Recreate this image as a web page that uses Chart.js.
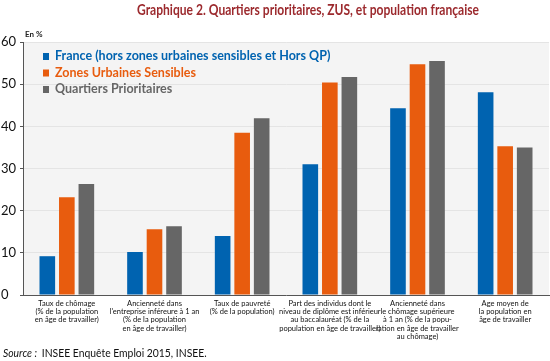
<!DOCTYPE html>
<html><head><meta charset="utf-8">
<script src="https://cdn.jsdelivr.net/npm/chart.js@4.4.1/dist/chart.umd.min.js"></script>
<style>html,body{margin:0;padding:0;background:#fff}#wrap{width:550px;height:361px;position:relative}</style>
</head><body><div id="wrap"><canvas id="c" width="550" height="361"></canvas></div>
<script>
const categories = [
  ["Taux de chômage", "(% de la population", "en âge de travailler)"],
  ["Ancienneté dans", "l'entreprise inféreure à 1 an", "(% de la population", "en âge de travailler)"],
  ["Taux de pauvreté", "(% de la population)"],
  ["Part des individus dont le", "niveau de diplôme est inférieur", "au baccalauréat (% de la", "population en âge de travailler)"],
  ["Ancienneté dans", "le chômage supérieure", "à 1 an (% de la popu-", "lation en âge de travailler", "au chômage)"],
  ["Age moyen de", "la population en", "âge de travailler"]
];
const seriesNames = ["France (hors zones urbaines sensibles et Hors QP)", "Zones Urbaines Sensibles", "Quartiers Prioritaires"];
const franceValues = [9.2, 10.2, 14.0, 31.0, 44.3, 48.1];
const zusValues = [23.2, 15.6, 38.5, 50.4, 54.7, 35.3];
const qpValues = [26.3, 16.3, 41.9, 51.7, 55.5, 35.0];
const yTicks = [0, 10, 20, 30, 40, 50, 60];
const titleText = "Graphique 2. Quartiers prioritaires, ZUS, et population française";
const unitText = "En %";
const sourceLabel = "Source :";
const sourceText = "INSEE Enquête Emploi 2015, INSEE.";

const colors = ["#0063b0", "#e85c0e", "#666666"];
const FONT = "Lato, 'Open Sans', sans-serif";

function condensedText(ctx, text, x, y, targetWidth, align) {
  const w = ctx.measureText(text).width;
  const k = Math.min(1, targetWidth / w);
  ctx.save();
  ctx.translate(x, y);
  ctx.scale(k, 1);
  ctx.textAlign = align;
  ctx.fillText(text, 0, 0);
  ctx.restore();
}

const decor = {
  id: 'decor',
  beforeDraw(chart) {
    const {ctx, chartArea: a} = chart;
    ctx.save();
    ctx.fillStyle = '#f4f4f4';
    ctx.fillRect(a.left, a.top, a.right - a.left, a.bottom - a.top);
    ctx.restore();
  },
  afterDraw(chart) {
    const {ctx} = chart;
    ctx.save();
    ctx.textBaseline = 'middle';
    ctx.fillStyle = '#9c2a2e';
    ctx.font = "bold 15.5px " + FONT;
    condensedText(ctx, titleText, 308, 10, 342, 'center');
    ctx.textAlign = 'left';
    ctx.fillStyle = '#222';
    ctx.font = "bold 8px " + FONT;
    ctx.fillText(unitText, 25, 34);
    // legend
    ctx.font = "bold 12.5px " + FONT;
    chart.data.datasets.forEach((ds, i) => {
      const y = 56 + i * 16.5;
      ctx.fillStyle = ds.backgroundColor;
      ctx.fillRect(43, y - 3, 6, 7);
      ctx.fillText(ds.label, 55, y);
    });
    // source
    ctx.fillStyle = '#111';
    ctx.font = "italic 11.5px " + FONT;
    ctx.save();
    ctx.translate(3, 353);
    ctx.scale(0.9, 1);
    ctx.fillText(sourceLabel, 0, 0);
    const w = ctx.measureText(sourceLabel + "  ").width;
    ctx.font = "11.5px " + FONT;
    ctx.fillText(sourceText, w, 0);
    ctx.restore();
    ctx.restore();
  }
};

new Chart(document.getElementById('c'), {
  type: 'bar',
  data: {
    labels: categories,
    datasets: [
      {label: seriesNames[0], data: franceValues, backgroundColor: colors[0]},
      {label: seriesNames[1], data: zusValues, backgroundColor: colors[1]},
      {label: seriesNames[2], data: qpValues, backgroundColor: colors[2]}
    ]
  },
  options: {
    responsive: false,
    animation: false,
    devicePixelRatio: 1,
    layout: {padding: {top: 42, left: 1, right: 1, bottom: 0}},
    datasets: {bar: {categoryPercentage: 0.668, barPercentage: 0.8}},
    plugins: {legend: {display: false}, title: {display: false}, tooltip: {enabled: false}},
    scales: {
      x: {
        grid: {display: false, drawTicks: false},
        border: {display: true, color: '#555', width: 1},
        ticks: {color: '#111', font: {family: FONT, size: 7.5, lineHeight: 1.07}, padding: 5, maxRotation: 0, autoSkip: false},
        afterFit(s) { s.height = 66; }
      },
      y: {
        min: 0, max: 60,
        afterBuildTicks(s) { s.ticks = yTicks.map(v => ({value: v})); },
        grid: {color: '#e4e4e4', drawTicks: true, tickLength: 3, tickColor: '#555'},
        border: {display: true, color: '#555', width: 1},
        ticks: {color: '#111', font: {family: FONT, size: 13}, padding: 2, crossAlign: 'far'},
        afterFit(s) { s.width = 22; }
      }
    }
  },
  plugins: [decor]
});
</script></body></html>
